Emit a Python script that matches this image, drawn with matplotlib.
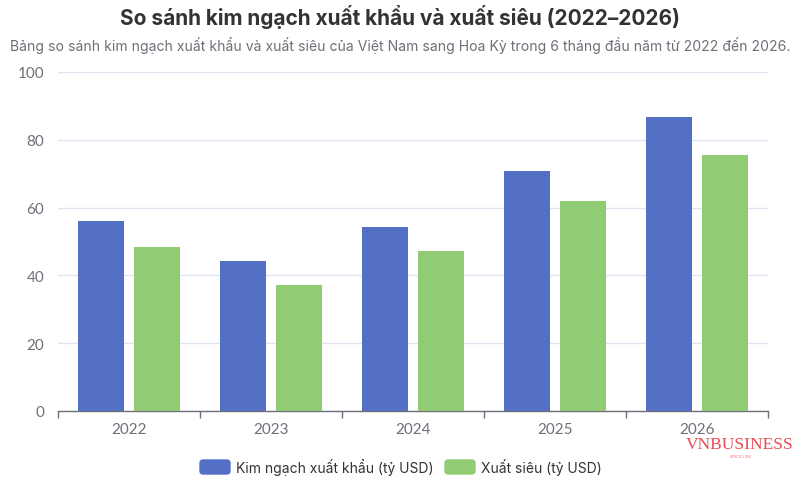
import numpy as np
import matplotlib.pyplot as plt
from matplotlib.patches import FancyBboxPatch

years = ["2022", "2023", "2024", "2025", "2026"]
kim_ngach = [56.0, 44.2, 54.3, 70.8, 86.7]
xuat_sieu = [48.4, 37.2, 47.2, 61.9, 75.5]
series_names = ["Kim ngạch xuất khẩu (tỷ USD)", "Xuất siêu (tỷ USD)"]
colors = ["#5470C6", "#91CC75"]
yticks = [0, 20, 40, 60, 80, 100]

plt.rcParams['font.family'] = ['Inter', 'DejaVu Sans']

fig = plt.figure(figsize=(8, 4.85), dpi=100)
ax = fig.add_axes([58 / 800, 1 - 412 / 485, 710 / 800, 339 / 485])

x = np.arange(len(years))
w = 0.325
off = 0.197
ax.bar(x - off, kim_ngach, w, color=colors[0], zorder=3)
ax.bar(x + off, xuat_sieu, w, color=colors[1], zorder=3)

ax.set_xlim(-0.5, len(years) - 0.5)
ax.set_ylim(0, 100)
ax.set_yticks(yticks)
ax.set_yticklabels([str(v) for v in yticks], family=['Lato', 'DejaVu Sans'])
ax.grid(axis='y', color='#E0E6F1', linewidth=1, zorder=0)
ax.tick_params(axis='y', length=0, pad=10, labelsize=11, labelcolor='#6E7079')

ax.set_xticks(np.arange(-0.5, len(years)), minor=False)
ax.set_xticklabels([])
ax.set_xticks(x, minor=True)
ax.set_xticklabels(years, minor=True, family=['Lato', 'DejaVu Sans'])
ax.tick_params(axis='x', which='major', length=5, color='#6E7079', width=1)
ax.tick_params(axis='x', which='minor', length=0, pad=8, labelsize=11, labelcolor='#6E7079')

for s in ['top', 'right', 'left']:
    ax.spines[s].set_visible(False)
ax.spines['bottom'].set_color('#6E7079')
ax.spines['bottom'].set_linewidth(1)

fig.text(0.5, 1 - 17 / 485, "So sánh kim ngạch xuất khẩu và xuất siêu (2022–2026)",
         ha='center', va='center', fontsize=15, fontweight='bold', color='#333333')
fig.text(0.5, 1 - 46 / 485,
         "Bảng so sánh kim ngạch xuất khẩu và xuất siêu của Việt Nam sang Hoa Kỳ trong 6 tháng đầu năm từ 2022 đến 2026.",
         ha='center', va='center', fontsize=10.1, color='#6E7079')

# legend
leg_y = 1 - 468 / 485
items = [(200, series_names[0], colors[0]), (445, series_names[1], colors[1])]
for px, label, c in items:
    box = FancyBboxPatch((px / 800, leg_y - 7 / 485), 30 / 800, 14 / 485,
                         boxstyle="round,pad=0,rounding_size=0.004",
                         transform=fig.transFigure, color=c, mutation_aspect=800 / 485)
    fig.patches.append(box)
    fig.text((px + 36) / 800, leg_y, label, ha='left', va='center',
             fontsize=10, color='#333333')

# watermark
fig.text(740 / 800, 1 - 445 / 485, "VNBUSINESS", ha='center', va='center',
         fontsize=12.5, color='#E8363C', family=['Liberation Serif'], alpha=0.9)
fig.text(740 / 800, 1 - 457 / 485, "SINCE 1992", ha='center', va='center',
         fontsize=3, color='#E8363C', family=['Liberation Serif'], alpha=0.8)

fig.savefig("out.png", dpi=100)
